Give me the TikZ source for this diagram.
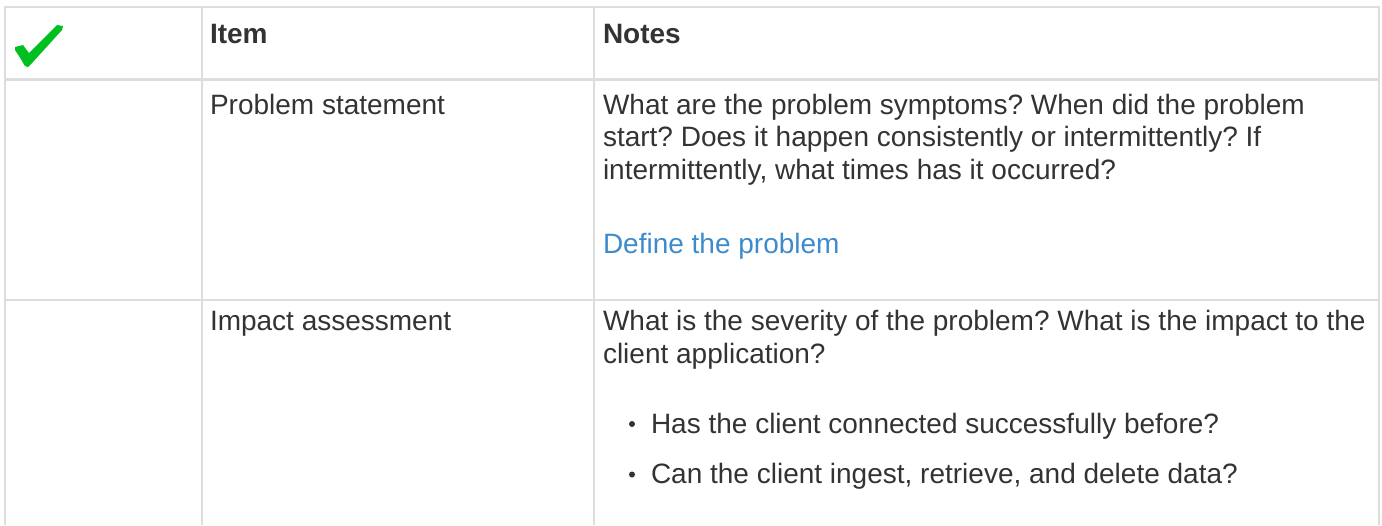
\documentclass[tikz,border=0pt]{standalone}
\usepackage{fontspec}
\setmainfont{Liberation Sans}
\definecolor{rule}{HTML}{DDDDDD}
\definecolor{txt}{HTML}{333333}
\definecolor{lnk}{RGB}{61,139,204}
\definecolor{chk}{RGB}{0,192,32}
\begin{document}
\frenchspacing
\begin{tikzpicture}[x=1pt,y=-1pt,
  cell/.style={anchor=base west,inner sep=0pt,outer sep=0pt,text=txt,font=\fontsize{28}{32}\selectfont},
  head/.style={cell,font=\fontsize{28}{32}\selectfont\bfseries},
  link/.style={cell,text=lnk},
  grid/.style={draw=rule,line width=1.8pt},
  bul/.style={circle,fill=txt,inner sep=0pt,minimum size=6pt}]
\useasboundingbox (0,0) rectangle (1382,525);
% grid lines
\draw[grid] (5,7) -- (1379,7);
\draw[grid,line width=3.5pt] (5,79.5) -- (1379,79.5);
\draw[grid] (5,300) -- (1379,300);
\draw[grid] (5,6) -- (5,525);
\draw[grid] (202,6) -- (202,525);
\draw[grid] (594,6) -- (594,525);
\draw[grid] (1379,6) -- (1379,525);
% check mark
\fill[chk] (15,47) -- (23,45) -- (29,53) -- (57,25) -- (63,26) -- (62,30)
  -- (33,62) -- (28,67) -- (25,66) -- (19,56) -- (15,50) -- cycle;
% header
\node[head] (hitem) at (210,43) {Item};
\node[head] (hnotes) at (603,43) {Notes};
% row 1
\node[cell] (r1item) at (210,114) {Problem statement};
\node[cell] (r1a) at (603,114) {What are the problem symptoms? When did the problem};
\node[cell] (r1b) at (603,146.5) {start? Does it happen consistently or intermittently? If};
\node[cell] (r1c) at (603,179) {intermittently, what times has it occurred?};
\node[link] (r1link) at (603,253) {Define the problem};
% row 2
\node[cell] (r2item) at (210,330) {Impact assessment};
\node[cell] (r2a) at (603,330) {What is the severity of the problem? What is the impact to the};
\node[cell] (r2b) at (603,363) {client application?};
\node[bul] (b1) at (632,424) {};
\node[cell] (r2c) at (651,433) {Has the client connected successfully before?};
\node[bul] (b2) at (632,474.5) {};
\node[cell] (r2d) at (651,483.5) {Can the client ingest, retrieve, and delete data?};
\end{tikzpicture}
\end{document}
